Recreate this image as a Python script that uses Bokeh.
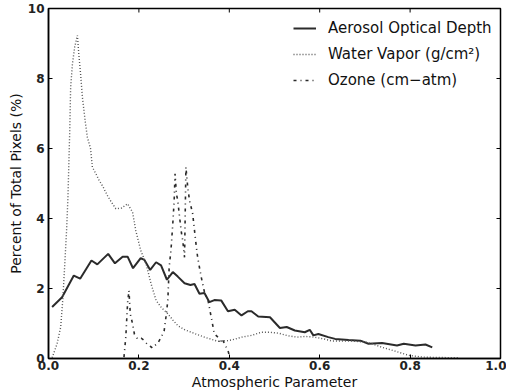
import math
from bokeh.plotting import figure
from bokeh.models import (Range1d, FixedTicker, PrintfTickFormatter,
                          Legend, LegendItem)
from bokeh.embed import file_html
from bokeh.resources import INLINE

# ---- data ----
aerosol_x = [0.008, 0.030, 0.056, 0.070, 0.095, 0.108, 0.132, 0.147, 0.164, 0.175,
             0.187, 0.204, 0.212, 0.225, 0.238, 0.249, 0.262, 0.275, 0.286, 0.301,
             0.314, 0.323, 0.334, 0.345, 0.356, 0.367, 0.382, 0.397, 0.412, 0.427,
             0.441, 0.449, 0.464, 0.490, 0.512, 0.527, 0.545, 0.567, 0.578, 0.586,
             0.597, 0.619, 0.634, 0.664, 0.690, 0.708, 0.738, 0.771, 0.786, 0.812,
             0.834, 0.849]
aerosol_y = [1.47, 1.75, 2.37, 2.28, 2.80, 2.69, 2.99, 2.72, 2.91, 2.91,
             2.58, 2.87, 2.82, 2.53, 2.75, 2.66, 2.25, 2.47, 2.34, 2.15,
             2.10, 2.13, 1.85, 1.87, 1.61, 1.67, 1.66, 1.35, 1.39, 1.23,
             1.35, 1.35, 1.20, 1.18, 0.87, 0.90, 0.80, 0.75, 0.82, 0.66,
             0.70, 0.61, 0.56, 0.53, 0.51, 0.42, 0.44, 0.37, 0.42, 0.37,
             0.40, 0.32]

water_x = [0.008, 0.019, 0.027, 0.032, 0.036, 0.040, 0.043, 0.045, 0.047, 0.049,
           0.053, 0.058, 0.064, 0.067, 0.071, 0.075, 0.081, 0.086, 0.093, 0.097,
           0.104, 0.112, 0.121, 0.130, 0.140, 0.149, 0.162, 0.175, 0.186, 0.193,
           0.204, 0.216, 0.227, 0.238, 0.250, 0.264, 0.275, 0.286, 0.300, 0.316,
           0.330, 0.345, 0.360, 0.375, 0.386, 0.397, 0.412, 0.427, 0.449, 0.471,
           0.490, 0.510, 0.530, 0.550, 0.567, 0.582, 0.597, 0.612, 0.627, 0.650,
           0.671, 0.690, 0.701, 0.716, 0.738, 0.767, 0.797, 0.827, 0.860, 0.908]
water_y = [0.02, 0.42, 0.90, 1.75, 2.70, 3.66, 4.60, 5.56, 6.50, 7.75,
           8.42, 8.90, 9.23, 8.70, 8.13, 7.47, 6.80, 6.32, 6.00, 5.47,
           5.30, 5.09, 4.90, 4.66, 4.45, 4.28, 4.30, 4.42, 4.18, 3.66,
           3.09, 2.70, 2.13, 1.66, 1.45, 1.28, 1.10, 0.94, 0.83, 0.75,
           0.68, 0.61, 0.55, 0.49, 0.50, 0.51, 0.55, 0.61, 0.66, 0.75,
           0.75, 0.72, 0.65, 0.61, 0.63, 0.62, 0.59, 0.55, 0.50, 0.50,
           0.50, 0.48, 0.47, 0.42, 0.32, 0.21, 0.09, 0.04, 0.03, 0.02]

ozone_x = [0.167, 0.171, 0.175, 0.178, 0.181, 0.186, 0.190, 0.197, 0.205, 0.212,
           0.219, 0.225, 0.230, 0.236, 0.241, 0.249, 0.256, 0.260, 0.264, 0.267,
           0.271, 0.275, 0.278, 0.280, 0.283, 0.286, 0.290, 0.294, 0.297, 0.301,
           0.304, 0.308, 0.312, 0.316, 0.319, 0.323, 0.327, 0.330, 0.334, 0.338,
           0.345, 0.353, 0.360, 0.367, 0.375, 0.381, 0.386, 0.392, 0.397, 0.401]
ozone_y = [0.04, 0.61, 1.60, 1.94, 1.27, 0.99, 0.70, 0.56, 0.58, 0.51,
           0.40, 0.35, 0.30, 0.38, 0.42, 0.60, 0.80, 1.20, 1.66, 2.61,
           3.10, 3.85, 4.50, 5.28, 4.70, 4.51, 4.04, 3.60, 3.37, 2.89,
           5.47, 4.90, 4.51, 4.30, 4.13, 3.66, 3.20, 2.89, 2.60, 2.32,
           1.90, 1.66, 1.18, 0.70, 0.61, 0.45, 0.51, 0.35, 0.23, 0.04]

x_ticks = [0.0, 0.2, 0.4, 0.6, 0.8, 1.0]
y_ticks = [0, 2, 4, 6, 8, 10]
x_min, x_max = 0.0, 1.0
y_min, y_max = 0, 10
labels = ["Aerosol Optical Depth", "Water Vapor (g/cm\u00b2)", "Ozone (cm\u2212atm)"]

FONT = "DejaVu Sans"

p = figure(width=506, height=392, output_backend="svg", toolbar_location=None,
           x_range=Range1d(x_min, x_max), y_range=Range1d(y_min, y_max),
           min_border_left=48, min_border_right=6, min_border_top=8,
           min_border_bottom=34)
p.grid.visible = False
p.outline_line_color = "black"
p.outline_line_width = 1.5
p.background_fill_color = "white"
p.border_fill_color = "white"

r1 = p.line(aerosol_x, aerosol_y, line_color="#2b2b2b", line_width=2)
r2 = p.line(water_x, water_y, line_color="#555555", line_width=1.4, line_dash="1 2")
r3 = p.line(ozone_x, ozone_y, line_color="#2b2b2b", line_width=1.6, line_dash="3 4 1 4")

# inward tick marks on the top and right edges (matplotlib style)
p.scatter(x_ticks, [y_max] * len(x_ticks), marker="dash", angle=math.pi / 2,
          size=8, line_color="black", line_width=1)
p.scatter([x_max] * len(y_ticks), y_ticks, marker="dash",
          size=8, line_color="black", line_width=1)

for ax, ticks in ((p.xaxis[0], x_ticks), (p.yaxis[0], y_ticks)):
    ax.ticker = FixedTicker(ticks=ticks)
    ax.minor_tick_line_color = None
    ax.major_tick_in = 4
    ax.major_tick_out = 0
    ax.major_tick_line_color = "black"
    ax.axis_line_color = "black"
    ax.axis_line_width = 1.5
    ax.major_label_text_font = FONT
    ax.major_label_text_font_size = "12px"
    ax.major_label_text_font_style = "bold"
    ax.major_label_text_color = "#222222"
    ax.axis_label_text_font = FONT
    ax.axis_label_text_font_size = "14px"
    ax.axis_label_text_font_style = "normal"
    ax.axis_label_text_color = "#111111"

xa = p.xaxis[0]
ya = p.yaxis[0]
xa.formatter = PrintfTickFormatter(format="%.1f")
xa.axis_label = "Atmospheric Parameter"
ya.axis_label = "Percent of Total Pixels (%)"
xa.major_label_standoff = 2
xa.axis_label_standoff = 1
ya.major_label_standoff = 4
ya.axis_label_standoff = 1

legend = Legend(items=[LegendItem(label=labels[0], renderers=[r1]),
                       LegendItem(label=labels[1], renderers=[r2]),
                       LegendItem(label=labels[2], renderers=[r3])],
                location=(245, 268), border_line_color=None,
                background_fill_alpha=0, padding=0, margin=0,
                glyph_width=23, glyph_height=20, label_height=20,
                spacing=6, label_standoff=12,
                label_text_font=FONT, label_text_font_size="15px",
                label_text_color="#111111")
p.add_layout(legend)

open("out.html", "w").write(file_html(p, INLINE))
